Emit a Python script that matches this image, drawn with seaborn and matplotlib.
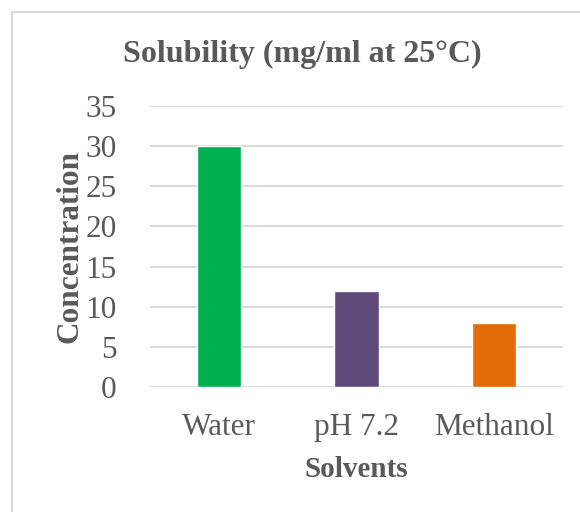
import matplotlib
matplotlib.use("Agg")
import matplotlib.pyplot as plt
import matplotlib.patches as mpatches
import seaborn as sns
import pandas as pd

# Solubility data
solvents = ["Water", "pH 7.2", "Methanol"]
concentration = [30, 12, 8]
bar_colors = ["#00B050", "#604A7B", "#E36C09"]
y_ticks = [0, 5, 10, 15, 20, 25, 30, 35]

df = pd.DataFrame({"Solvents": solvents, "Concentration": concentration})

sns.set_theme(style="white")
plt.rcParams["font.family"] = ["Liberation Serif", "DejaVu Serif"]

text_color = "#595959"
grid_color = "#D9D9D9"

fig = plt.figure(figsize=(5.8, 5.12), dpi=100)
ax = fig.add_axes([150 / 580, 1 - 387 / 512, 413 / 580, 281 / 512])

sns.barplot(data=df, x="Solvents", y="Concentration", hue="Solvents",
            palette=bar_colors, width=0.32, ax=ax, legend=False,
            saturation=1, zorder=3)

ax.set_ylim(0, 35)
ax.set_yticks(y_ticks)
ax.set_xlim(-0.5, 2.5)
for y in y_ticks:
    ax.axhline(y, color=grid_color, linewidth=1.4, zorder=1)

for spine in ax.spines.values():
    spine.set_visible(False)

ax.tick_params(axis="both", length=0, labelsize=22.5, colors=text_color)
ax.tick_params(axis="y", pad=24)
ax.tick_params(axis="x", pad=19)

ax.set_xlabel("Solvents", fontsize=21, fontweight="bold", color=text_color, labelpad=10)
ax.set_ylabel("Concentration", fontsize=22.5, fontweight="bold", color=text_color, labelpad=1)

fig.text(302 / 580, 1 - 54 / 512, "Solubility (mg/ml at 25°C)", ha="center", va="center",
         fontsize=23, fontweight="bold", color=text_color)

# Chart frame (left and top edges visible)
frame = mpatches.Rectangle((12 / 580, -0.1), 1.2, 1 - 12 / 512 + 0.1,
                           transform=fig.transFigure, fill=False,
                           edgecolor=grid_color, linewidth=1.5)
fig.patches.append(frame)

fig.savefig("out.png", dpi=100, facecolor="white")
